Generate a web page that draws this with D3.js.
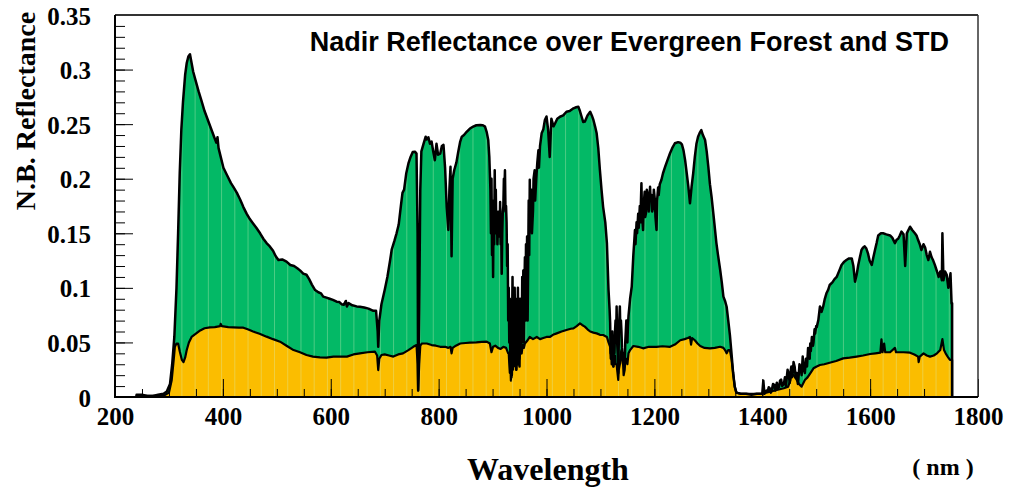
<!DOCTYPE html>
<html>
<head>
<meta charset="utf-8">
<script src="https://cdn.jsdelivr.net/npm/d3@7"></script>
<style>
  body { margin: 0; background: #fff; }
  svg { display: block; }
</style>
</head>
<body>
<div id="viz"></div>
<script>
// mean nadir reflectance
const wavelength = [240,250,260,270,280,290,296,302,306,310,314,317,320,323,326,330,333,336,339,342,345,350,355,360,366,372,378,384,388,390,392,396,401,408,415,420,426,432,438,444,450,456,462,469,475,481,487,493,498,503,510,518,525,532,538,543,549,555,560,565,571,577,582,586,592,598,604,611,616,620,624,628,630,633,640,648,654,662,670,679,684,687,688,690,694,700,705,710,713,718,722,726,730,733,736,740,744,748,752,756,759,761,762,764,766,768,772,776,778,781,784,787,790,793,796,799,803,806,809,812,815,818,820,822,824,826,829,833,836,840,843,847,852,858,864,870,877,882,886,889,892,894,895,896,897,898,899,900,901,902,903,904,905,906,907,908,909,910,911,912,913,914,915,916,917,918,919,920,921,922,923,924,925,926,927,928,929,930,931,932,933,934,935,936,937,938,939,940,941,942,943,944,945,946,947,948,949,950,951,952,953,954,955,956,957,958,959,960,961,962,963,964,965,966,967,968,969,970,972,973,975,976,978,979,981,983,985,986,988,991,994,997,1000,1003,1006,1009,1013,1016,1020,1025,1031,1037,1043,1050,1055,1059,1062,1065,1068,1071,1076,1081,1084,1087,1090,1093,1096,1099,1102,1105,1109,1112,1115,1117,1118,1119,1120,1121,1122,1123,1124,1125,1126,1127,1128,1129,1130,1131,1132,1133,1134,1135,1136,1137,1138,1139,1140,1141,1142,1143,1144,1145,1146,1147,1148,1149,1150,1151,1152,1155,1158,1161,1163,1164,1165,1167,1168,1170,1171,1173,1174,1176,1177,1179,1180,1182,1183,1185,1186,1188,1190,1192,1193,1195,1196,1198,1199,1201,1202,1204,1205,1207,1208,1210,1213,1216,1220,1225,1229,1233,1238,1244,1248,1251,1254,1257,1260,1263,1266,1269,1272,1275,1278,1281,1284,1287,1290,1294,1297,1300,1303,1306,1310,1315,1318,1322,1325,1328,1331,1334,1337,1340,1343,1346,1349,1352,1360,1370,1380,1390,1400,1402,1404,1408,1410,1412,1414,1416,1418,1420,1422,1424,1427,1429,1431,1433,1435,1437,1440,1442,1444,1445,1447,1449,1451,1452,1454,1455,1457,1458,1460,1462,1464,1466,1467,1469,1471,1473,1475,1477,1479,1481,1483,1485,1486,1488,1489,1490,1492,1494,1495,1497,1498,1500,1501,1504,1507,1510,1513,1516,1519,1522,1525,1530,1534,1538,1543,1547,1552,1556,1561,1566,1569,1572,1575,1578,1581,1584,1587,1590,1593,1596,1599,1603,1606,1609,1612,1615,1620,1624,1630,1637,1641,1646,1649,1652,1655,1658,1662,1665,1668,1671,1674,1678,1683,1686,1689,1692,1695,1699,1702,1705,1708,1711,1714,1717,1720,1724,1727,1730,1733,1734,1736,1739,1742,1745,1749,1751,1752]
const reflectance = [0.002,0.002,0.001,0.001,0.002,0.003,0.005,0.012,0.03,0.055,0.10,0.15,0.205,0.245,0.27,0.295,0.306,0.312,0.314,0.306,0.298,0.289,0.280,0.272,0.262,0.254,0.246,0.238,0.233,0.238,0.228,0.220,0.210,0.203,0.196,0.192,0.187,0.181,0.174,0.168,0.163,0.159,0.155,0.150,0.145,0.141,0.138,0.134,0.129,0.1255,0.126,0.124,0.121,0.120,0.118,0.116,0.113,0.112,0.108,0.103,0.098,0.096,0.095,0.092,0.091,0.090,0.089,0.0873,0.087,0.085,0.0845,0.088,0.083,0.086,0.084,0.083,0.0827,0.082,0.081,0.079,0.079,0.06,0.046,0.07,0.085,0.098,0.11,0.125,0.135,0.143,0.150,0.158,0.175,0.187,0.19,0.205,0.214,0.22,0.2245,0.2248,0.223,0.15,0.006,0.08,0.19,0.225,0.232,0.2385,0.236,0.238,0.232,0.234,0.225,0.217,0.232,0.222,0.223,0.230,0.231,0.21,0.174,0.153,0.19,0.211,0.129,0.2,0.208,0.215,0.2235,0.234,0.2385,0.240,0.243,0.246,0.2477,0.249,0.2492,0.249,0.2477,0.243,0.2355,0.22,0.205,0.19,0.15,0.2,0.13,0.17,0.11,0.18,0.14,0.2077,0.16,0.19,0.15,0.17,0.14,0.16,0.147,0.17,0.15,0.1787,0.14,0.16,0.113,0.15,0.17,0.175,0.2,0.19,0.2077,0.17,0.175,0.16,0.12,0.14,0.07,0.10,0.05,0.09,0.03,0.08,0.018,0.06,0.11,0.04,0.09,0.03,0.1,0.037,0.08,0.025,0.09,0.04,0.1,0.03,0.07,0.028,0.09,0.04,0.08,0.05,0.11,0.06,0.116,0.05,0.1,0.128,0.07,0.14,0.09,0.147,0.07,0.12,0.18,0.13,0.199,0.16,0.19,0.15,0.171,0.2,0.2077,0.18,0.2,0.215,0.226,0.21,0.23,0.2416,0.245,0.2538,0.257,0.245,0.220,0.255,0.248,0.2508,0.255,0.2568,0.258,0.2614,0.262,0.2645,0.2655,0.266,0.262,0.257,0.252,0.2523,0.258,0.2614,0.258,0.2538,0.248,0.2416,0.228,0.208,0.19,0.174,0.16,0.141,0.098,0.08,0.068,0.04,0.05,0.03,0.06,0.045,0.028,0.05,0.04,0.06,0.07,0.05,0.083,0.05,0.04,0.022,0.05,0.07,0.083,0.06,0.07,0.06,0.045,0.04,0.03,0.035,0.04,0.028,0.05,0.06,0.07,0.055,0.05,0.065,0.074,0.09,0.101,0.13,0.145,0.153,0.14,0.16,0.15,0.168,0.155,0.175,0.16,0.1958,0.17,0.153,0.175,0.188,0.165,0.17,0.19,0.185,0.17,0.1927,0.18,0.185,0.17,0.175,0.19,0.18,0.165,0.153,0.18,0.192,0.185,0.195,0.1988,0.205,0.211,0.218,0.2233,0.228,0.2325,0.2335,0.233,0.2315,0.226,0.217,0.205,0.1927,0.1775,0.1927,0.205,0.220,0.232,0.2385,0.242,0.2446,0.24,0.2355,0.225,0.211,0.195,0.1835,0.165,0.141,0.13,0.1164,0.105,0.092,0.088,0.0827,0.07,0.057,0.04,0.022,0.0095,0.004,0.003,0.003,0.002,0.003,0.003,0.015,0.003,0.006,0.005,0.009,0.008,0.004,0.007,0.012,0.011,0.006,0.013,0.008,0.009,0.015,0.016,0.01,0.012,0.018,0.01,0.0156,0.025,0.02,0.013,0.022,0.028,0.018,0.024,0.032,0.028,0.018,0.022,0.012,0.016,0.03,0.028,0.02,0.037,0.025,0.022,0.035,0.028,0.045,0.04,0.035,0.049,0.042,0.055,0.047,0.05,0.062,0.058,0.065,0.064,0.0705,0.083,0.078,0.083,0.09,0.095,0.098,0.1026,0.105,0.108,0.110,0.116,0.121,0.124,0.1255,0.127,0.127,0.12,0.1057,0.112,0.121,0.128,0.1347,0.137,0.138,0.136,0.1316,0.125,0.121,0.128,0.1347,0.141,0.148,0.150,0.150,0.149,0.148,0.146,0.141,0.144,0.145,0.148,0.1515,0.149,0.12,0.150,0.153,0.156,0.153,0.150,0.148,0.1438,0.14,0.1347,0.14,0.137,0.13,0.1255,0.133,0.128,0.125,0.121,0.115,0.110,0.115,0.107,0.150,0.107,0.115,0.112,0.100,0.1133,0.0858,0.0858]

// standard deviation
const stdWavelength = [240,290,300,305,309,311,314,317,320,324,327,330,333,337,342,350,358,366,376,385,395,396,398,410,419,430,438,446,456,468,481,493,506,518,531,543,555,567,580,592,605,618,630,642,654,668,682,686,688,690,694,700,708,716,725,734,744,753,759,761,762,764,766,769,778,787,795,803,812,818,822,824,826,832,840,850,858,870,880,889,895,898,901,905,910,915,920,925,929,930,931,932,933,934,935,936,937,938,939,940,941,942,943,944,945,946,947,948,949,950,952,954,956,958,960,965,969,975,982,988,994,1000,1006,1012,1019,1028,1037,1045,1050,1056,1062,1066,1071,1076,1081,1087,1093,1099,1105,1112,1115,1118,1119,1121,1122,1124,1125,1127,1128,1130,1131,1133,1134,1136,1137,1139,1140,1142,1143,1145,1146,1148,1150,1152,1155,1161,1170,1179,1190,1204,1215,1229,1238,1248,1256,1262,1266,1268,1270,1275,1280,1285,1293,1303,1312,1322,1328,1331,1334,1337,1340,1343,1346,1349,1352,1360,1400,1427,1440,1448,1452,1454,1458,1464,1468,1473,1479,1484,1489,1495,1501,1507,1515,1525,1537,1550,1562,1575,1587,1600,1610,1619,1621,1623,1626,1628,1637,1646,1648,1662,1674,1682,1689,1690,1692,1699,1705,1711,1718,1724,1730,1734,1737,1740,1745,1748,1752]
const stdDev = [0.001,0.001,0.004,0.015,0.035,0.046,0.049,0.049,0.042,0.034,0.032,0.036,0.043,0.05,0.055,0.058,0.061,0.063,0.0638,0.064,0.065,0.067,0.065,0.064,0.0638,0.0635,0.0635,0.062,0.060,0.058,0.0553,0.053,0.0507,0.047,0.043,0.041,0.0385,0.037,0.0363,0.036,0.037,0.037,0.037,0.039,0.040,0.041,0.0415,0.038,0.0247,0.035,0.0385,0.039,0.038,0.037,0.039,0.040,0.043,0.046,0.0476,0.03,0.006,0.03,0.047,0.049,0.049,0.0476,0.047,0.046,0.046,0.045,0.046,0.04,0.045,0.047,0.049,0.0495,0.0498,0.050,0.0505,0.0507,0.049,0.041,0.046,0.047,0.045,0.044,0.046,0.045,0.04,0.04,0.03,0.022,0.03,0.015,0.035,0.02,0.04,0.025,0.045,0.03,0.043,0.028,0.04,0.025,0.038,0.03,0.045,0.03,0.04,0.035,0.045,0.04,0.048,0.045,0.049,0.052,0.055,0.053,0.055,0.053,0.054,0.055,0.055,0.057,0.0583,0.060,0.0614,0.0625,0.0629,0.065,0.0675,0.066,0.0645,0.062,0.060,0.059,0.0583,0.057,0.0568,0.055,0.05,0.046,0.035,0.035,0.04,0.028,0.035,0.038,0.03,0.03,0.025,0.0156,0.025,0.03,0.038,0.043,0.035,0.03,0.02,0.025,0.035,0.035,0.03,0.04,0.043,0.0467,0.046,0.0446,0.046,0.046,0.0465,0.046,0.048,0.052,0.053,0.054,0.055,0.048,0.054,0.052,0.049,0.0467,0.045,0.0446,0.045,0.046,0.045,0.043,0.04,0.043,0.043,0.035,0.022,0.0095,0.004,0.003,0.003,0.0064,0.008,0.0095,0.015,0.022,0.02,0.0156,0.012,0.0095,0.0156,0.018,0.0217,0.0263,0.028,0.0293,0.030,0.0314,0.033,0.0354,0.036,0.037,0.038,0.0394,0.040,0.0406,0.0528,0.041,0.049,0.041,0.041,0.045,0.041,0.041,0.0406,0.039,0.037,0.032,0.037,0.040,0.038,0.037,0.038,0.040,0.043,0.053,0.043,0.040,0.036,0.034,0.034]

const xTicks = [200, 400, 600, 800, 1000, 1200, 1400, 1600, 1800]
const yTicks = [0, 0.05, 0.1, 0.15, 0.2, 0.25, 0.3, 0.35]

const chartTitle = 'Nadir Reflectance over Evergreen Forest and STD'

let dimensions = {
  width: 1017,
  height: 487,
  margin: {top: 15, right: 39, bottom: 90, left: 115},
}
dimensions.boundedWidth = dimensions.width - dimensions.margin.left - dimensions.margin.right
dimensions.boundedHeight = dimensions.height - dimensions.margin.top - dimensions.margin.bottom

const meanData = wavelength.map((w, i) => ({w: w, v: reflectance[i]}))
const stdData = stdWavelength.map((w, i) => ({w: w, v: stdDev[i]}))

const wrapper = d3.select('#viz')
  .append('svg')
  .attr('width', dimensions.width)
  .attr('height', dimensions.height)

const bounds = wrapper.append('g')
  .attr('transform', `translate(${dimensions.margin.left},${dimensions.margin.top})`)

const xScale = d3.scaleLinear()
  .domain([200, 1800])
  .range([0, dimensions.boundedWidth])

const yScale = d3.scaleLinear()
  .domain([0, 0.35])
  .range([dimensions.boundedHeight, 0])

const areaGenerator = d3.area()
  .x(d => xScale(d.w))
  .y0(yScale(0))
  .y1(d => yScale(d.v))

// closed outline (histogram edges go down to zero at both ends)
const outline = data => [{w: data[0].w, v: 0}, ...data, {w: data[data.length - 1].w, v: 0}]
const lineGenerator = d3.line()
  .x(d => xScale(d.w))
  .y(d => yScale(d.v))

bounds.append('clipPath').attr('id', 'meanClip')
  .append('path').attr('d', areaGenerator(meanData))

bounds.append('path')
  .attr('d', areaGenerator(meanData))
  .attr('fill', '#03b966')

bounds.append('path')
  .attr('d', areaGenerator(stdData))
  .attr('fill', '#fbbd00')

// faint bin stripes seen in the fills
const stripes = d3.range(324, 1752, 24.53)
bounds.append('g')
  .attr('clip-path', 'url(#meanClip)')
  .selectAll('line')
  .data(stripes)
  .join('line')
  .attr('x1', d => xScale(d)).attr('x2', d => xScale(d))
  .attr('y1', 0).attr('y2', dimensions.boundedHeight)
  .attr('stroke', 'rgba(215,240,190,0.35)')
  .attr('stroke-width', 1)

bounds.append('path')
  .attr('d', lineGenerator(outline(meanData)))
  .attr('fill', 'none')
  .attr('stroke', '#000')
  .attr('stroke-width', 2.5)
  .attr('stroke-linejoin', 'round')

bounds.append('path')
  .attr('d', lineGenerator(outline(stdData)))
  .attr('fill', 'none')
  .attr('stroke', '#000')
  .attr('stroke-width', 2.2)
  .attr('stroke-linejoin', 'round')

// axes, ticks pointing inward
const serif = '"Liberation Serif", "Times New Roman", serif'

const xMinor = bounds.append('g')
  .attr('transform', `translate(0,${dimensions.boundedHeight})`)
  .call(d3.axisBottom(xScale).tickValues(d3.range(200, 1801, 50)).tickSize(-8).tickFormat(''))

const xAxis = bounds.append('g')
  .attr('transform', `translate(0,${dimensions.boundedHeight})`)
  .call(d3.axisBottom(xScale).tickValues(xTicks).tickSize(-18).tickPadding(10).tickFormat(d3.format('d')))

const yMinor = bounds.append('g')
  .call(d3.axisLeft(yScale).tickValues(d3.range(0, 0.351, 0.01)).tickSize(-10).tickFormat(''))

const yAxis = bounds.append('g')
  .call(d3.axisLeft(yScale).tickValues(yTicks).tickSize(-18).tickPadding(24).tickFormat(d => d === 0 ? '0' : d3.format('')(+d.toFixed(2))))

;[xMinor, xAxis, yMinor, yAxis].forEach(g => {
  g.select('.domain').remove()
  g.selectAll('.tick line').attr('stroke', '#000').attr('stroke-width', 1)
})

xAxis.selectAll('.tick text')
  .attr('font-family', serif).attr('font-size', 25).attr('font-weight', 'bold').attr('fill', '#000')
yAxis.selectAll('.tick text')
  .attr('font-family', serif).attr('font-size', 25).attr('font-weight', 'bold').attr('fill', '#000')
  .attr('dy', '0.36em')

// frame
bounds.append('line')
  .attr('x1', 0).attr('x2', dimensions.boundedWidth).attr('y1', 0).attr('y2', 0)
  .attr('stroke', '#333').attr('stroke-width', 2)
bounds.append('line')
  .attr('x1', dimensions.boundedWidth).attr('x2', dimensions.boundedWidth).attr('y1', 0).attr('y2', dimensions.boundedHeight)
  .attr('stroke', '#333').attr('stroke-width', 1.5)
bounds.append('line')
  .attr('x1', 0).attr('x2', 0).attr('y1', 0).attr('y2', dimensions.boundedHeight + 1)
  .attr('stroke', '#000').attr('stroke-width', 2)
bounds.append('line')
  .attr('x1', 0).attr('x2', dimensions.boundedWidth).attr('y1', dimensions.boundedHeight).attr('y2', dimensions.boundedHeight)
  .attr('stroke', '#000').attr('stroke-width', 2)

// texts
wrapper.append('text')
  .attr('x', 949).attr('y', 51)
  .attr('text-anchor', 'end')
  .attr('font-family', '"Liberation Sans", Arial, sans-serif')
  .attr('font-weight', 'bold')
  .attr('font-size', 27)
  .text(chartTitle)

wrapper.append('text')
  .attr('transform', 'translate(35,111) rotate(-90)')
  .attr('text-anchor', 'middle')
  .attr('font-family', serif)
  .attr('font-weight', 'bold')
  .attr('font-size', 28)
  .text('N.B. Reflectance')

wrapper.append('text')
  .attr('x', 548).attr('y', 480)
  .attr('text-anchor', 'middle')
  .attr('font-family', serif)
  .attr('font-weight', 'bold')
  .attr('font-size', 32)
  .text('Wavelength')

wrapper.append('text')
  .attr('x', 943).attr('y', 475)
  .attr('text-anchor', 'middle')
  .attr('font-family', serif)
  .attr('font-weight', 'bold')
  .attr('font-size', 24)
  .text('( nm )')
</script>
</body>
</html>
